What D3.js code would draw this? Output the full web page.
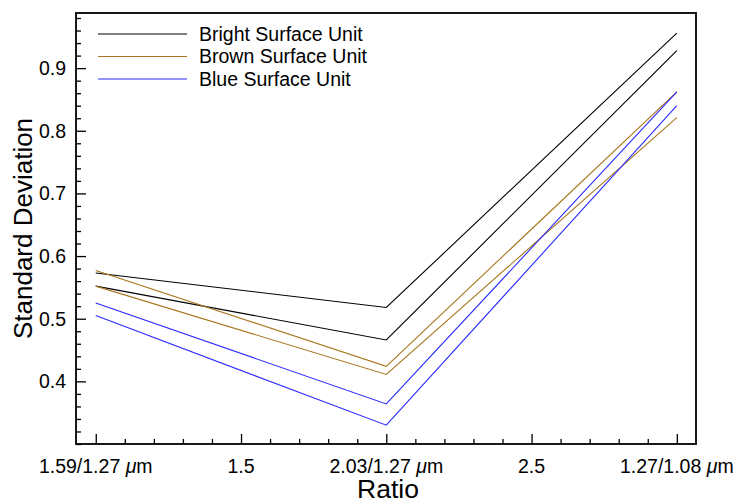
<!DOCTYPE html>
<html>
<head>
<meta charset="utf-8">
<script src="https://cdn.jsdelivr.net/npm/d3@7"></script>
<style>
  html, body { margin: 0; padding: 0; background: #fff; }
  svg { display: block; font-family: "Liberation Sans", Arial, Helvetica, sans-serif; }
</style>
</head>
<body>
<svg id="chart" width="735" height="504"></svg>
<script>
// ---- data ----
const xPositions = [1, 2, 3];
const xTickValues = [1, 1.5, 2, 2.5, 3];
const xTickLabels = ["1.59/1.27 μm", "1.5", "2.03/1.27 μm", "2.5", "1.27/1.08 μm"];
const yTickValues = [0.4, 0.5, 0.6, 0.7, 0.8, 0.9];
const seriesNames = ["Bright Surface Unit", "Brown Surface Unit", "Blue Surface Unit"];
const seriesColors = ["#000000", "#a8761e", "#2a2aff"];
const bright1 = [0.573, 0.518, 0.956];
const bright2 = [0.552, 0.466, 0.928];
const brown1 = [0.577, 0.424, 0.862];
const brown2 = [0.552, 0.411, 0.821];
const blue1 = [0.525, 0.364, 0.862];
const blue2 = [0.505, 0.330, 0.840];

const lines = [
  { group: 0, values: bright1 }, { group: 0, values: bright2 },
  { group: 1, values: brown1 }, { group: 1, values: brown2 },
  { group: 2, values: blue1 }, { group: 2, values: blue2 }
];

// ---- layout ----
const svg = d3.select("#chart");
const L = 76, R = 696, T = 13, B = 444;
const x = d3.scaleLinear().domain([0.932, 3.066]).range([L, R]);
const y = d3.scaleLinear().domain([0.300, 0.988]).range([B, T]);

// ticks (inward)
const gx = svg.append("g").attr("transform", `translate(0,${B})`);
gx.call(d3.axisTop(x).tickValues(d3.range(10, 31).map(d => d / 10).filter(v => !xTickValues.includes(v))).tickSize(5).tickFormat(""));
const gx2 = svg.append("g").attr("transform", `translate(0,${B})`);
gx2.call(d3.axisTop(x).tickValues(xTickValues).tickSize(10).tickFormat(""));
[gx, gx2].forEach(g => { g.select(".domain").remove(); g.selectAll("line").attr("stroke", "#000").attr("stroke-width", 1.3); });

const yMinor = d3.range(15, 50).map(d => d / 50).filter(v => !yTickValues.some(t => Math.abs(t - v) < 1e-9));
const gy = svg.append("g").attr("transform", `translate(${L},0)`);
gy.call(d3.axisRight(y).tickValues(yMinor).tickSize(5).tickFormat(""));
const gy2 = svg.append("g").attr("transform", `translate(${L},0)`);
gy2.call(d3.axisRight(y).tickValues(yTickValues).tickSize(10).tickFormat(""));
[gy, gy2].forEach(g => { g.select(".domain").remove(); g.selectAll("line").attr("stroke", "#000").attr("stroke-width", 1.3); });

// tick labels
const xl = svg.append("g");
xTickValues.forEach((v, i) => {
  const t = xl.append("text").attr("x", x(v)).attr("y", 473).attr("text-anchor", "middle")
    .attr("font-size", 19.5).attr("fill", "#000");
  const lab = xTickLabels[i];
  if (lab.includes("μ")) {
    const parts = lab.split("μ");
    t.append("tspan").text(parts[0]);
    t.append("tspan").attr("font-style", "italic").text("μ");
    t.append("tspan").text(parts[1]);
  } else {
    t.text(lab);
  }
});
svg.append("g").selectAll("text").data(yTickValues).join("text")
  .attr("x", 66).attr("y", d => y(d)).attr("dy", "0.35em").attr("text-anchor", "end")
  .attr("font-size", 19.5).attr("fill", "#000").text(d => d3.format(".1f")(d));

// lines
const lineGen = d3.line().x((d, i) => x(xPositions[i])).y(d => y(d));
svg.append("g").selectAll("path").data(lines).join("path")
  .attr("d", d => lineGen(d.values)).attr("fill", "none")
  .attr("stroke", d => seriesColors[d.group]).attr("stroke-width", 1.1);

// frame
svg.append("rect").attr("x", L).attr("y", T).attr("width", R - L).attr("height", B - T)
  .attr("fill", "none").attr("stroke", "#000").attr("stroke-width", 1.8);

// legend
const lg = svg.append("g");
seriesNames.forEach((name, i) => {
  const ly = 34 + i * 22.5;
  lg.append("line").attr("x1", 98).attr("x2", 187).attr("y1", ly).attr("y2", ly)
    .attr("stroke", seriesColors[i]).attr("stroke-width", 1.1);
  lg.append("text").attr("x", 199).attr("y", ly).attr("dy", "0.35em").attr("font-size", 19.5)
    .attr("fill", "#000").text(name);
});

// axis titles
svg.append("text").attr("x", (L + R) / 2 + 2).attr("y", 498).attr("text-anchor", "middle")
  .attr("font-size", 26.5).attr("fill", "#000").text("Ratio");
svg.append("text").attr("transform", `translate(32,${(T + B) / 2}) rotate(-90)`)
  .attr("text-anchor", "middle").attr("font-size", 26).attr("fill", "#000").text("Standard Deviation");
</script>
</body>
</html>
